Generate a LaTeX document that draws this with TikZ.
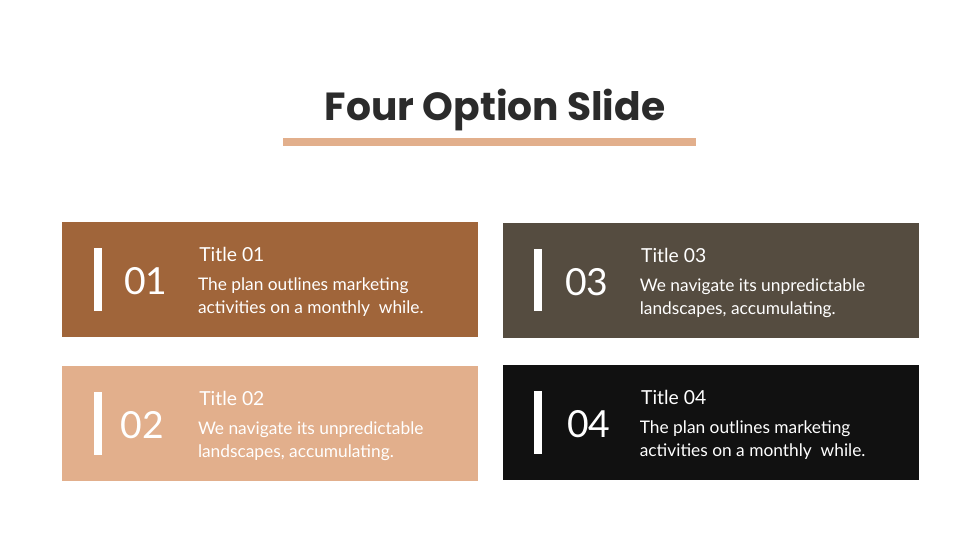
\documentclass[tikz,border=0pt]{standalone}
\usepackage{fontspec}
\setmainfont{Lato}
\newfontfamily\headfont{Poppins}
\usepackage{xcolor}
\usetikzlibrary{positioning}
\definecolor{rust}{HTML}{A0653A}
\definecolor{sand}{HTML}{E2AF8C}
\definecolor{taupe}{HTML}{554C40}
\definecolor{ink}{HTML}{111111}
\definecolor{heading}{HTML}{2B2B2B}

\begin{document}
\begin{tikzpicture}[x=0.75pt, y=-0.75pt,
	card/.style={minimum width=312pt, minimum height=86.25pt, inner sep=0pt},
	bar/.style={fill=white, minimum width=6pt, minimum height=47pt, inner sep=0pt},
	num/.style={white, font=\fontsize{28}{32}\selectfont, inner sep=0pt, anchor=west},
	head/.style={white, font=\fontsize{14.5}{17}\selectfont, inner sep=0pt, anchor=base west},
	body/.style={white, font=\fontsize{13}{17.25}\selectfont, align=left, inner sep=0pt, anchor=base west}]
	\useasboundingbox[fill=white] (0,0) rectangle (980,551);

	\node[font=\headfont\bfseries\fontsize{29.4}{35}\selectfont, text=heading, inner sep=0pt, anchor=base](Heading) at (495,120){Four Option Slide};
	\node[fill=sand, minimum width=309.75pt, minimum height=6pt, inner sep=0pt](Rule) at (489.5,142){};

	\node[card, fill=rust](CardA) at (270,279.5){};
	\node[bar](BarA) at ([xshift=27pt]CardA.west){};
	\node[num](NumA) at ([xshift=46.5pt, yshift=-1.5pt]CardA.west){01};
	\node[head](TitleA) at ([xshift=103pt, yshift=-30pt]CardA.north west){Title 01};
	\node[body](TextA) at ([xshift=102pt, yshift=-69pt]CardA.north west){The plan outlines marketing\\activities on a monthly\ \ while.};

	\node[card, fill=sand](CardB) at (270,423.5){};
	\node[bar](BarB) at ([xshift=27pt]CardB.west){};
	\node[num](NumB) at ([xshift=44pt, yshift=-1.5pt]CardB.west){02};
	\node[head](TitleB) at ([xshift=103pt, yshift=-30pt]CardB.north west){Title 02};
	\node[body](TextB) at ([xshift=102pt, yshift=-69pt]CardB.north west){We navigate its unpredictable\\landscapes, accumulating.};

	\node[card, fill=taupe](CardC) at (710.5,280){};
	\node[bar](BarC) at ([xshift=27pt]CardC.west){};
	\node[num](NumC) at ([xshift=47pt, yshift=-1.5pt]CardC.west){03};
	\node[head](TitleC) at ([xshift=104pt, yshift=-30pt]CardC.north west){Title 03};
	\node[body](TextC) at ([xshift=103pt, yshift=-69pt]CardC.north west){We navigate its unpredictable\\landscapes, accumulating.};

	\node[card, fill=ink](CardD) at (710.5,422.5){};
	\node[bar](BarD) at ([xshift=27pt]CardD.west){};
	\node[num](NumD) at ([xshift=48.5pt, yshift=-1.5pt]CardD.west){04};
	\node[head](TitleD) at ([xshift=104pt, yshift=-30pt]CardD.north west){Title 04};
	\node[body](TextD) at ([xshift=103pt, yshift=-69pt]CardD.north west){The plan outlines marketing\\activities on a monthly\ \ while.};
\end{tikzpicture}
\end{document}
